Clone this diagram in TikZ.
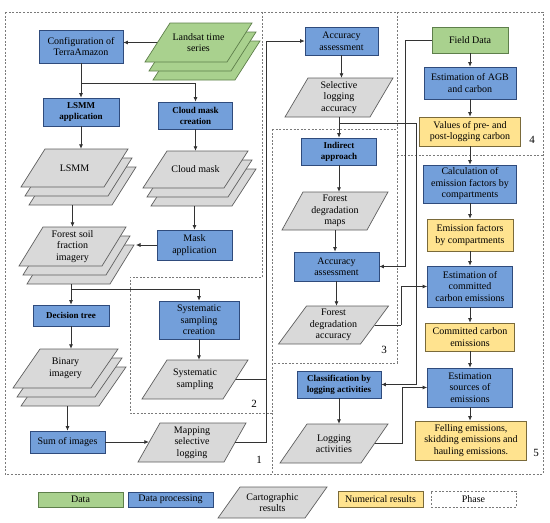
\documentclass[tikz,border=0pt]{standalone}
\usepackage{fontspec}
\setmainfont{Liberation Serif}
\usetikzlibrary{arrows.meta}
\definecolor{pblue}{HTML}{739FDA}
\definecolor{pblueb}{HTML}{2F4B7C}
\definecolor{pgreen}{HTML}{A9D18E}
\definecolor{pgreenb}{HTML}{5E7F4B}
\definecolor{pyellow}{HTML}{FFE38F}
\definecolor{pyellowb}{HTML}{7A6A3A}
\definecolor{pgray}{HTML}{D9D9D9}
\definecolor{pgrayb}{HTML}{5F5F5F}
\definecolor{cline}{HTML}{333333}
\definecolor{dline}{HTML}{7A7A7A}
\newcommand\pshape[7]{\filldraw[line width=0.7pt,fill=#6,draw=#7] ({#1-#3/2+#5/2},{#2-#4/2}) -- ++(#3,0) -- ++({-#5},#4) -- ++({-#3},0) -- cycle;}
\newcommand\pstack[7]{%
 \pshape{#1+8}{#2+18}{#3}{#4}{#5}{#6}{#7}%
 \pshape{#1+4}{#2+9}{#3}{#4}{#5}{#6}{#7}%
 \pshape{#1}{#2}{#3}{#4}{#5}{#6}{#7}}
\tikzset{
 base/.style={inner sep=0pt, align=center, font=\fontsize{10}{11.5}\selectfont},
 bbox/.style={base, draw=pblueb, fill=pblue, line width=0.7pt},
 gbox/.style={base, draw=pgreenb, fill=pgreen, line width=0.7pt},
 ybox/.style={base, draw=pyellowb, fill=pyellow, line width=0.7pt},
 ptxt/.style={base},
 bf/.style={font=\fontsize{9}{11}\selectfont\bfseries},
 cl/.style={draw=cline, line width=0.7pt},
 arr/.style={cl, -{Latex[length=4.5pt,width=4pt]}},
 phase/.style={draw=dline, line width=0.7pt, dash pattern=on 2pt off 1.6pt},
 num/.style={font=\fontsize{11}{12}\selectfont}
}
\begin{document}
\begin{tikzpicture}[x=1pt,y=-1pt]
\useasboundingbox (0,0) rectangle (550,523);
% phases
\draw[phase] (5,12) rectangle (543,474);
\draw[phase] (262,12) -- (262,277) -- (130,277) -- (130,413) -- (272,413);
\draw[phase] (272,129) -- (397,129);
\draw[phase] (272,129) -- (272,474);
\draw[phase] (397,12) -- (397,363) -- (272,363);
\draw[phase] (397,155) -- (543,155);
\node[num] (n1) at (259,460) {1};
\node[num] (n2) at (254,404) {2};
\node[num] (n3) at (384,350) {3};
\node[num] (n4) at (532,140) {4};
\node[num] (n5) at (536,453) {5};

% left column
\node[bbox, minimum width=84pt, minimum height=33pt] (config) at (81,46.5) {Configuration of\\TerraAmazon};
\pstack{198.5}{42.5}{82}{39}{25}{pgreen}{pgreenb}
\node[ptxt, minimum width=82pt, minimum height=39pt] (landsat) at (198.5,42.5) {Landsat time\\series};
\node[bbox, bf, minimum width=76pt, minimum height=28pt] (lsmmapp) at (81,112) {LSMM\\application};
\node[bbox, bf, minimum width=74pt, minimum height=27pt] (cloudc) at (195.5,115.5) {Cloud mask\\creation};
\pstack{74.5}{168}{83}{38}{24}{pgray}{pgrayb}
\node[ptxt, minimum width=83pt, minimum height=38pt] (lsmm) at (74.5,168) {LSMM};
\node[ptxt, minimum width=83pt, minimum height=38pt] (lsmmB) at (82.5,186) {};
\pstack{195.5}{169.5}{81}{37}{24}{pgray}{pgrayb}
\node[ptxt, minimum width=81pt, minimum height=37pt] (cloud) at (195.5,169.5) {Cloud mask};
\node[ptxt, minimum width=81pt, minimum height=37pt] (cloudB) at (203.5,187.5) {};
\pstack{72.5}{246.5}{83}{39}{24}{pgray}{pgrayb}
\node[ptxt, minimum width=83pt, minimum height=39pt] (fsf) at (72.5,246.5) {Forest soil\\fraction\\imagery};
\node[ptxt, minimum width=83pt, minimum height=39pt] (fsfB) at (80.5,264.5) {};
\node[bbox, minimum width=75pt, minimum height=30pt] (maskapp) at (194.5,245) {Mask\\application};
\coordinate (fsfin) at (136,245);
\node[bbox, bf, minimum width=76pt, minimum height=21pt] (dt) at (71,315.5) {Decision tree};
\node[bbox, minimum width=80pt, minimum height=38pt] (syscre) at (199,320) {Systematic\\sampling\\creation};
\pshape{195}{379.5}{81}{39}{25}{pgray}{pgrayb}
\node[ptxt, minimum width=81pt, minimum height=39pt] (syss) at (195,379.5) {Systematic\\sampling};
\pstack{65.5}{368.5}{78}{39}{27}{pgray}{pgrayb}
\node[ptxt, minimum width=78pt, minimum height=39pt] (bin) at (65.5,368.5) {Binary\\imagery};
\node[ptxt, minimum width=78pt, minimum height=39pt] (binB) at (73.5,386.5) {};
\node[bbox, minimum width=75pt, minimum height=22pt] (sum) at (67.5,442) {Sum of images};
\pshape{192}{442.5}{86}{39}{22}{pgray}{pgrayb}
\node[ptxt, minimum width=86pt, minimum height=39pt] (mapsl) at (192,442.5) {Mapping\\selective\\logging};

% middle column
\node[bbox, minimum width=73pt, minimum height=28pt] (acc1) at (341.5,41) {Accuracy\\assessment};
\pshape{339}{97.5}{85}{39}{23}{pgray}{pgrayb}
\node[ptxt, minimum width=85pt, minimum height=39pt] (sla) at (339,97.5) {Selective\\logging\\accuracy};
\node[bbox, bf, minimum width=75pt, minimum height=27pt] (ind) at (339,151.5) {Indirect\\approach};
\pshape{335}{211}{85}{38}{21}{pgray}{pgrayb}
\node[ptxt, minimum width=85pt, minimum height=38pt] (fdm) at (335,211) {Forest\\degradation\\maps};
\node[bbox, minimum width=85pt, minimum height=29pt] (acc3) at (336.5,266.5) {Accuracy\\assessment};
\pshape{333.5}{325}{82}{38}{28}{pgray}{pgrayb}
\node[ptxt, minimum width=82pt, minimum height=38pt] (fda) at (333.5,325) {Forest\\degradation\\accuracy};
\node[bbox, bf, minimum width=84pt, minimum height=27pt] (class) at (339,384.5) {Classification by\\logging activities};
\pshape{334}{443.5}{81}{39}{27}{pgray}{pgrayb}
\node[ptxt, minimum width=81pt, minimum height=39pt] (log) at (334,443.5) {Logging\\activities};

% right column
\node[gbox, minimum width=76pt, minimum height=26pt] (fd) at (470,40) {Field Data};
\node[bbox, minimum width=92pt, minimum height=32pt] (agb) at (470,83) {Estimation of AGB\\and carbon};
\node[ybox, minimum width=101pt, minimum height=29pt] (val) at (470,131.5) {Values of pre- and\\post-logging carbon};
\node[bbox, minimum width=93pt, minimum height=38pt] (calc) at (470,184) {Calculation of\\emission factors by\\compartments};
\node[ybox, minimum width=86pt, minimum height=32pt] (ef) at (470,235) {Emission factors\\by compartments};
\node[bbox, minimum width=85pt, minimum height=41pt] (estc) at (470,286.5) {Estimation of\\committed\\carbon emissions};
\node[ybox, minimum width=89pt, minimum height=28pt] (cce) at (470,337) {Committed carbon\\emissions};
\node[bbox, minimum width=85pt, minimum height=39pt] (srcs) at (470,387.5) {Estimation\\sources of\\emissions};
\node[ybox, minimum width=111pt, minimum height=39pt] (fell) at (471,440.5) {Felling emissions,\\skidding emissions and\\hauling emissions.};

% left connectors
\coordinate (j1) at (81,83);
\coordinate (j2) at (71,289);
\coordinate (bus) at (266,442.5);
\draw[arr] (landsat.west) -- (landsat.west -| config.east);
\draw[cl] (config.south) -- (j1);
\draw[arr] (j1) -- (lsmmapp.north);
\draw[arr] (j1) -| (cloudc.north);
\draw[arr] (lsmmapp.south) -- (lsmmapp.south |- lsmm.north);
\draw[arr] (cloudc.south) -- (cloudc.south |- cloud.north);
\draw[arr] (fsf.north |- lsmmB.south) -- (fsf.north);
\draw[arr] (maskapp.north |- cloudB.south) -- (maskapp.north);
\draw[arr] (maskapp.west) -- (fsfin);
\draw[cl] (dt.north |- fsfB.south) -- (j2);
\draw[arr] (j2) -- (dt.north);
\draw[arr] (j2) -| (syscre.north);
\draw[arr] (dt.south) -- (dt.south |- bin.north);
\draw[arr] (syscre.south) -- (syscre.south |- syss.north);
\draw[arr] (sum.north |- binB.south) -- (sum.north);
\draw[arr] (sum.east) -- (sum.east -| mapsl.west);
\draw[cl] (syss.east) -- (syss.east -| bus);
\draw[arr] (mapsl.east) -- (bus) |- (acc1.west);

% middle/right connectors
\coordinate (j3) at (339,123);
\coordinate (k1) at (416,123);
\coordinate (k2) at (405,40);
\coordinate (k3) at (401,325);
\coordinate (k4) at (402,443.5);
\draw[arr] (acc1.south) -- (acc1.south |- sla.north);
\draw[arr] (sla.south) -- (ind.north);
\draw[cl] (j3) -- (k1);
\draw[arr] (k1) |- (class.east);
\draw[arr] (ind.south) -- (ind.south |- fdm.north);
\draw[arr] (fdm.south) -- (fdm.south |- acc3.north);
\draw[arr] (acc3.south) -- (acc3.south |- fda.north);
\draw[cl] (fd.west) -- (k2);
\draw[arr] (k2) |- (acc3.east);
\draw[cl] (fda.east) -- (k3);
\draw[arr] (k3) |- (estc.west);
\draw[arr] (class.south) -- (class.south |- log.north);
\draw[cl] (log.east) -- (k4);
\draw[arr] (k4) |- (srcs.west);
\draw[arr] (fd) -- (agb);
\draw[arr] (agb) -- (val);
\draw[arr] (val) -- (calc);
\draw[arr] (calc) -- (ef);
\draw[arr] (ef) -- (estc);
\draw[arr] (estc) -- (cce);
\draw[arr] (cce) -- (srcs);
\draw[arr] (srcs.south) -- (srcs.south |- fell.north);

% legend
\node[gbox, minimum width=85pt, minimum height=15pt] (lgdata) at (80.5,499.5) {Data};
\node[bbox, minimum width=85pt, minimum height=15pt] (lgproc) at (170.5,499.5) {Data processing};
\pshape{272.5}{502.5}{87}{31}{22}{pgray}{pgrayb}
\node[ptxt, minimum width=87pt, minimum height=31pt] (lgcart) at (272.5,502.5) {Cartographic\\results};
\node[ybox, minimum width=85pt, minimum height=16pt] (lgnum) at (380.5,499) {Numerical results};
\node[base, phase, minimum width=85pt, minimum height=16pt] (lgphase) at (473.5,499) {Phase};
\end{tikzpicture}
\end{document}
